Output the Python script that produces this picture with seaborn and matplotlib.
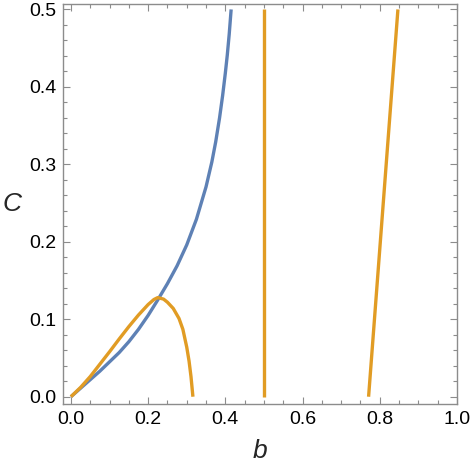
import matplotlib
matplotlib.use("Agg")
import matplotlib.pyplot as plt
from matplotlib.ticker import MultipleLocator
import seaborn as sns

# Blue curve
blue_b = [0.0, 0.025, 0.05, 0.075, 0.1, 0.125, 0.15, 0.175, 0.2, 0.225, 0.25, 0.275,
          0.3, 0.325, 0.35, 0.365, 0.375, 0.385, 0.393, 0.4, 0.405, 0.41, 0.415]
blue_C = [0.0, 0.011, 0.022, 0.033, 0.045, 0.057, 0.071, 0.087, 0.105, 0.125, 0.146, 0.169,
          0.196, 0.229, 0.271, 0.303, 0.329, 0.360, 0.389, 0.418, 0.441, 0.468, 0.5]

# Orange hump
hump_b = [0.0, 0.025, 0.05, 0.075, 0.1, 0.125, 0.15, 0.175, 0.2, 0.215, 0.225, 0.24,
          0.25, 0.265, 0.28, 0.29, 0.3, 0.306, 0.311, 0.316]
hump_C = [0.0, 0.012, 0.026, 0.042, 0.058, 0.0745, 0.0905, 0.1055, 0.119, 0.1255, 0.128, 0.126,
          0.122, 0.114, 0.101, 0.087, 0.064, 0.046, 0.026, 0.0]

# Orange vertical line
vert_b = [0.5, 0.5]
vert_C = [0.0, 0.5]

# Orange slanted line
slant_b = [0.771, 0.847]
slant_C = [0.0, 0.5]

BLUE = "#5E81B5"
ORANGE = "#E19C24"

sns.set_style("ticks")
plt.rcParams['font.family'] = ['Liberation Sans', 'DejaVu Sans']

fig = plt.figure(figsize=(4.71, 4.75), dpi=100)
ax = fig.add_axes([63/471, 1-404/475, (457-63)/471, (404-4)/475])

lw = 2.4
sns.lineplot(x=blue_b, y=blue_C, ax=ax, color=BLUE, lw=lw, sort=False, estimator=None,
             solid_capstyle='butt')
for xb, yc in [(hump_b, hump_C), (vert_b, vert_C), (slant_b, slant_C)]:
    sns.lineplot(x=xb, y=yc, ax=ax, color=ORANGE, lw=lw, sort=False, estimator=None,
                 solid_capstyle='butt')

ax.set_xlim(-0.0205, 1.0)
ax.set_ylim(-0.0094, 0.507)

ax.xaxis.set_major_locator(MultipleLocator(0.2))
ax.xaxis.set_minor_locator(MultipleLocator(0.05))
ax.yaxis.set_major_locator(MultipleLocator(0.1))
ax.yaxis.set_minor_locator(MultipleLocator(0.02))
ax.xaxis.set_major_formatter(plt.FuncFormatter(lambda v, p: f"{v:.1f}"))
ax.yaxis.set_major_formatter(plt.FuncFormatter(lambda v, p: f"{v:.1f}"))

gray = "#8c8c8c"
for s in ax.spines.values():
    s.set_visible(True)
    s.set_color(gray)
    s.set_linewidth(1.0)

ax.tick_params(which='both', direction='in', top=True, right=True, color=gray,
               labelsize=14, labelcolor='black', width=0.8)
ax.tick_params(which='major', length=5, pad=5)
ax.tick_params(which='minor', length=2.8)

ax.set_xlabel("b", fontsize=19, style='italic', labelpad=8)
ax.set_ylabel("C", fontsize=19, style='italic', rotation=0, labelpad=12, va='center')

fig.savefig("out.png", dpi=100)
